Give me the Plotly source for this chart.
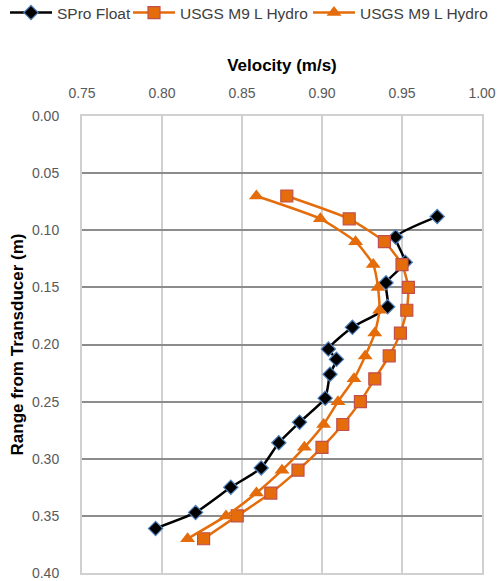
import plotly.graph_objects as go

# SPro Float
spro_vel = [0.972, 0.946, 0.952, 0.940, 0.941, 0.919, 0.904, 0.909, 0.905, 0.902,
            0.886, 0.873, 0.862, 0.843, 0.821, 0.796]
spro_rng = [0.088, 0.106, 0.128, 0.146, 0.167, 0.185, 0.204, 0.213, 0.226, 0.247,
            0.268, 0.286, 0.308, 0.325, 0.347, 0.361]

# USGS M9 L Hydro (squares)
m9a_rng = [0.07, 0.09, 0.11, 0.13, 0.15, 0.17, 0.19, 0.21,
           0.23, 0.25, 0.27, 0.29, 0.31, 0.33, 0.35, 0.37]
m9a_vel = [0.878, 0.917, 0.939, 0.950, 0.954, 0.953, 0.949, 0.942,
           0.933, 0.924, 0.913, 0.900, 0.885, 0.868, 0.847, 0.826]

# USGS M9 L Hydro (triangles)
m9b_rng = [0.07, 0.09, 0.11, 0.13, 0.15, 0.17, 0.19, 0.21,
           0.23, 0.25, 0.27, 0.29, 0.31, 0.33, 0.35, 0.37]
m9b_vel = [0.859, 0.899, 0.921, 0.932, 0.935, 0.936, 0.933, 0.927,
           0.920, 0.910, 0.901, 0.889, 0.875, 0.859, 0.840, 0.816]

x_ticks = [0.75, 0.80, 0.85, 0.90, 0.95, 1.00]
x_labels = ["0.75", "0.80", "0.85", "0.90", "0.95", "1.00"]
y_ticks = [0.00, 0.05, 0.10, 0.15, 0.20, 0.25, 0.30, 0.35, 0.40]
y_labels = ["0.00", "0.05", "0.10", "0.15", "0.20", "0.25", "0.30", "0.35", "0.40"]

ORANGE = "#E46C0A"
FONT = "Liberation Sans"
W, H = 501, 581

fig = go.Figure()
fig.add_trace(go.Scatter(
    x=spro_vel, y=spro_rng, name="SPro Float", mode="lines+markers", legend="legend",
    line=dict(color="black", width=2.5, shape="spline", smoothing=0.5),
    marker=dict(symbol="diamond", size=11, color="black",
                line=dict(color="#4F81BD", width=1.2))))
fig.add_trace(go.Scatter(
    x=m9a_vel, y=m9a_rng, name="USGS M9 L Hydro", mode="lines+markers", legend="legend2",
    line=dict(color=ORANGE, width=2.5, shape="spline", smoothing=0.5),
    marker=dict(symbol="square", size=12, color=ORANGE,
                line=dict(color="#C0504D", width=1.2))))
fig.add_trace(go.Scatter(
    x=m9b_vel, y=m9b_rng, name="USGS M9 L Hydro", mode="lines+markers", legend="legend3",
    line=dict(color=ORANGE, width=2.5, shape="spline", smoothing=0.5),
    marker=dict(symbol="triangle-up", size=13, color=ORANGE,
                line=dict(color=ORANGE, width=0))))


def leg(px):
    return dict(orientation="h", x=px / W, xanchor="left", xref="container",
                y=1 - 13 / H, yanchor="middle", yref="container",
                itemwidth=42,
                font=dict(family=FONT, size=15.5, color="#404040"),
                bgcolor="rgba(0,0,0,0)")


fig.update_layout(
    width=W, height=H,
    margin=dict(l=82, r=19, t=116, b=8, autoexpand=False),
    paper_bgcolor="white", plot_bgcolor="white",
    font=dict(family=FONT, size=14, color="#595959"),
    showlegend=True,
    legend=leg(5), legend2=leg(128), legend3=leg(308),
    xaxis=dict(
        side="top", range=[0.75, 1.00], tickvals=x_ticks, ticktext=x_labels,
        automargin=False, ticklabeloverflow="allow",
        showgrid=True, gridcolor="#D0D0D0", gridwidth=2,
        showline=True, linecolor="#D0D0D0", linewidth=2, mirror=True,
        zeroline=False, ticks="", ticklabelstandoff=10,
        title=dict(text="<b>Velocity (m/s)</b>", standoff=9,
                   font=dict(family=FONT, size=17, color="black"))),
    yaxis=dict(
        range=[0.40, 0.00], tickvals=y_ticks, ticktext=y_labels,
        automargin=False, ticklabeloverflow="allow",
        showgrid=True, gridcolor="#8C8C8C", gridwidth=2,
        showline=True, linecolor="#D0D0D0", linewidth=2, mirror=True,
        zeroline=False, ticks="", ticklabelstandoff=18,
        title=dict(text="<b>Range from Transducer (m)</b>", standoff=4,
                   font=dict(family=FONT, size=17, color="black"))),
)

fig.write_html("out.html", config={"displayModeBar": False},
               post_script="document.body.style.margin='0';document.body.style.overflow='hidden';")
